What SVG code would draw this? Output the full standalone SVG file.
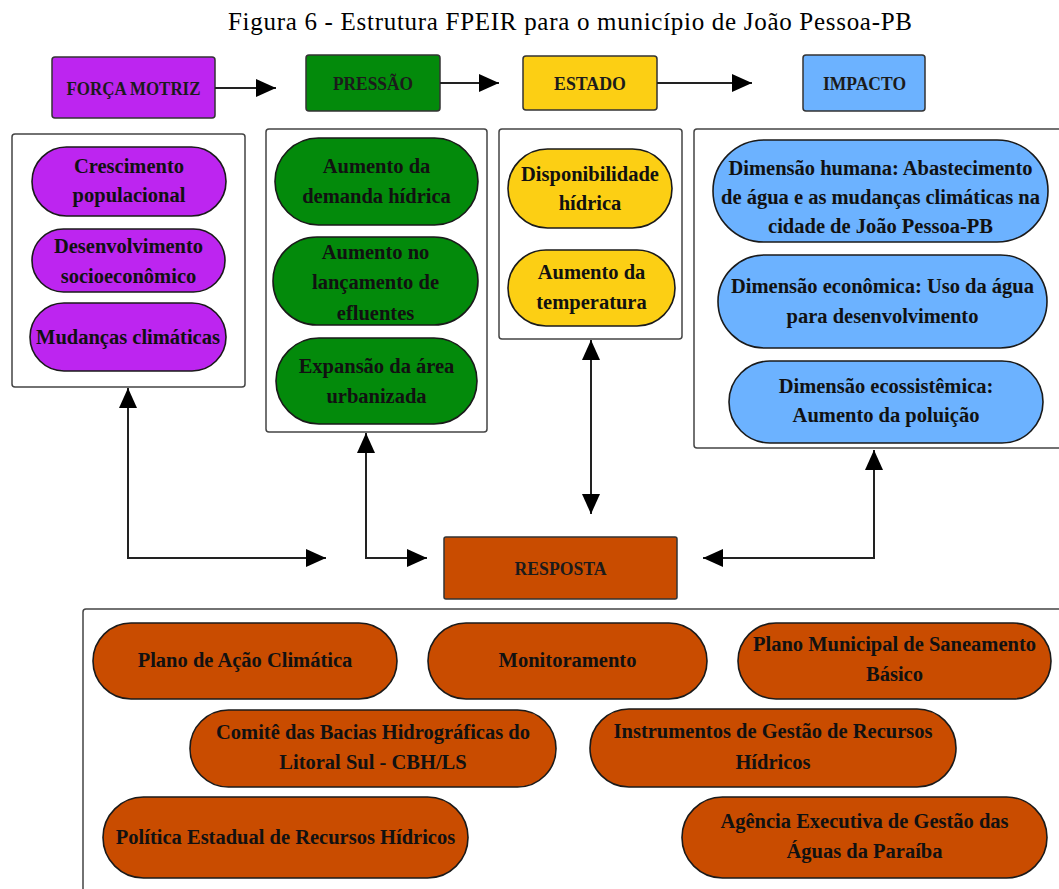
<svg xmlns="http://www.w3.org/2000/svg" width="1059" height="889" viewBox="0 0 1059 889">
<style>
.title{font-family:"Liberation Serif","Times New Roman",serif;font-size:25px;fill:#000}
.hd{stroke:#333;stroke-width:1.5}
.ht{font-family:"Liberation Serif","Times New Roman",serif;font-weight:bold;font-size:19px;fill:#1b1b1b;text-anchor:middle}
.box{fill:#fff;stroke:#444;stroke-width:1.5}
.pill{stroke:#1a1a1a;stroke-width:1.6}
.pt{font-family:"Liberation Serif","Times New Roman",serif;font-weight:bold;font-size:20.5px;fill:#111;text-anchor:middle}
.pu{fill:#bd25f0}.gr{fill:#038a0b}.ye{fill:#fccf14}.bl{fill:#6cb2ff}.or{fill:#c94c00}
.cn{fill:none;stroke:#222;stroke-width:2}
</style>
<defs>
<marker id="ah" viewBox="0 0 20 18" refX="20" refY="9" markerWidth="20" markerHeight="18" markerUnits="userSpaceOnUse" orient="auto-start-reverse">
<path d="M0,0 L20,9 L0,18 z" fill="#000"/>
</marker>
</defs>
<rect width="1059" height="889" fill="#fff"/>
<text class="title" x="570" y="30" text-anchor="middle" textLength="684" lengthAdjust="spacing">Figura 6 - Estrutura FPEIR para o município de João Pessoa-PB</text>

<g id="forca-motriz">
<rect class="hd pu" x="52" y="57" width="163" height="61" rx="3"/>
<text class="ht" x="133.5" y="94.5" textLength="134" lengthAdjust="spacingAndGlyphs">FORÇA MOTRIZ</text>
</g>
<g id="pressao">
<rect class="hd gr" x="306" y="55" width="134" height="56" rx="3"/>
<text class="ht" x="373" y="89.5" textLength="80" lengthAdjust="spacingAndGlyphs">PRESSÃO</text>
</g>
<g id="estado">
<rect class="hd ye" x="523" y="56" width="134" height="54" rx="3"/>
<text class="ht" x="590" y="89.5" textLength="72" lengthAdjust="spacingAndGlyphs">ESTADO</text>
</g>
<g id="impacto">
<rect class="hd bl" x="803" y="55" width="122" height="56" rx="3"/>
<text class="ht" x="864.5" y="89.5" textLength="83" lengthAdjust="spacingAndGlyphs">IMPACTO</text>
</g>

<g id="forca-container">
<rect class="box" x="12" y="134" width="233" height="253" rx="3"/>
<rect class="pill pu" x="32" y="147" width="194" height="69" rx="34.5"/>
<text class="pt" x="129" y="173">Crescimento</text>
<text class="pt" x="129" y="202">populacional</text>
<rect class="pill pu" x="32" y="229" width="193" height="63" rx="31.5"/>
<text class="pt" x="128.5" y="253">Desenvolvimento</text>
<text class="pt" x="128.5" y="283">socioeconômico</text>
<rect class="pill pu" x="30" y="303" width="196" height="68" rx="34"/>
<text class="pt" x="128" y="344">Mudanças climáticas</text>
</g>

<g id="pressao-container">
<rect class="box" x="266" y="129" width="221" height="303" rx="3"/>
<rect class="pill gr" x="275" y="138" width="203" height="87" rx="43.5"/>
<text class="pt" x="376.5" y="173">Aumento da</text>
<text class="pt" x="376.5" y="203">demanda hídrica</text>
<rect class="pill gr" x="273" y="237" width="205" height="88" rx="44"/>
<text class="pt" x="375.5" y="259">Aumento no</text>
<text class="pt" x="375.5" y="289">lançamento de</text>
<text class="pt" x="375.5" y="320">efluentes</text>
<rect class="pill gr" x="276" y="338" width="201" height="86" rx="43"/>
<text class="pt" x="376.5" y="373">Expansão da área</text>
<text class="pt" x="376.5" y="403">urbanizada</text>
</g>

<g id="estado-container">
<rect class="box" x="499" y="129" width="183" height="210" rx="3"/>
<rect class="pill ye" x="508" y="149" width="164" height="79" rx="39.5"/>
<text class="pt" x="590" y="181">Disponibilidade</text>
<text class="pt" x="590" y="210">hídrica</text>
<rect class="pill ye" x="508" y="250" width="167" height="76" rx="38"/>
<text class="pt" x="591.5" y="279">Aumento da</text>
<text class="pt" x="591.5" y="309">temperatura</text>
</g>

<g id="impacto-container">
<rect class="box" x="694" y="129" width="380" height="319" rx="3"/>
<rect class="pill bl" x="713" y="140" width="335" height="102" rx="51"/>
<text class="pt" x="880.5" y="175">Dimensão humana: Abastecimento</text>
<text class="pt" x="880.5" y="204">de água e as mudanças climáticas na</text>
<text class="pt" x="880.5" y="233">cidade de João Pessoa-PB</text>
<rect class="pill bl" x="718" y="255" width="329" height="93" rx="46.5"/>
<text class="pt" x="882.5" y="293">Dimensão econômica: Uso da água</text>
<text class="pt" x="882.5" y="323">para desenvolvimento</text>
<rect class="pill bl" x="729" y="361" width="314" height="82" rx="41"/>
<text class="pt" x="886" y="393">Dimensão ecossistêmica:</text>
<text class="pt" x="886" y="422">Aumento da poluição</text>
</g>

<g id="resposta">
<rect class="hd or" x="444" y="537" width="233" height="62" rx="2"/>
<text class="ht" x="560.5" y="575" textLength="92" lengthAdjust="spacingAndGlyphs">RESPOSTA</text>
</g>

<g id="resposta-container">
<rect class="box" x="83" y="609" width="1000" height="300" rx="3"/>
<rect class="pill or" x="93" y="623" width="304" height="76" rx="38"/>
<text class="pt" x="245" y="667">Plano de Ação Climática</text>
<rect class="pill or" x="428" y="623" width="279" height="76" rx="38"/>
<text class="pt" x="567.5" y="667">Monitoramento</text>
<rect class="pill or" x="738" y="623" width="313" height="76" rx="38"/>
<text class="pt" x="894.5" y="651">Plano Municipal de Saneamento</text>
<text class="pt" x="894.5" y="681">Básico</text>
<rect class="pill or" x="190" y="710" width="366" height="77" rx="38.5"/>
<text class="pt" x="373" y="739">Comitê das Bacias Hidrográficas do</text>
<text class="pt" x="373" y="769">Litoral Sul - CBH/LS</text>
<rect class="pill or" x="590" y="709" width="366" height="78" rx="39"/>
<text class="pt" x="773" y="738">Instrumentos de Gestão de Recursos</text>
<text class="pt" x="773" y="769">Hídricos</text>
<rect class="pill or" x="103" y="797" width="365" height="81" rx="40.5"/>
<text class="pt" x="285.5" y="844">Política Estadual de Recursos Hídricos</text>
<rect class="pill or" x="682" y="797" width="365" height="81" rx="40.5"/>
<text class="pt" x="864.5" y="828">Agência Executiva de Gestão das</text>
<text class="pt" x="864.5" y="858">Águas da Paraíba</text>
</g>

<g id="connectors">
<path class="cn" d="M215,88 L276,88" marker-end="url(#ah)"/>
<path class="cn" d="M440,83 L499,83" marker-end="url(#ah)"/>
<path class="cn" d="M657,83 L752,83" marker-end="url(#ah)"/>
<path class="cn" d="M128,388 L128,558 L326,558" marker-start="url(#ah)" marker-end="url(#ah)"/>
<path class="cn" d="M366,433 L366,558 L427,558" marker-start="url(#ah)" marker-end="url(#ah)"/>
<path class="cn" d="M591,340 L591,514" marker-start="url(#ah)" marker-end="url(#ah)"/>
<path class="cn" d="M874,450 L874,558 L703,558" marker-start="url(#ah)" marker-end="url(#ah)"/>
</g>
</svg>
